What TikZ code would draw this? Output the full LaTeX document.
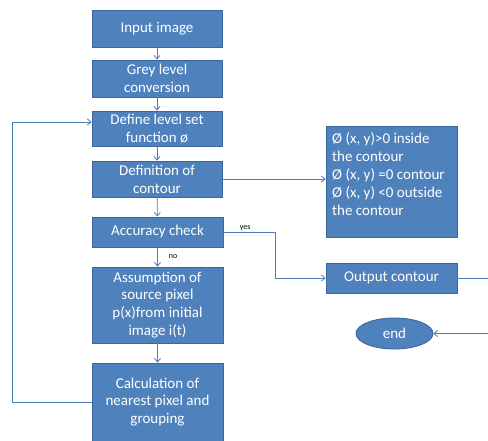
\documentclass[tikz,border=0pt]{standalone}
\usepackage{fontspec}
\setmainfont{Carlito}
\usetikzlibrary{shapes.geometric,arrows.meta,calc}
\definecolor{boxfill}{HTML}{4F81BD}
\definecolor{boxline}{HTML}{3A679E}
\definecolor{lnk}{HTML}{4A7EBB}
\tikzset{
  pbox/.style={draw=boxline,line width=0.9pt,fill=boxfill,text=white,align=center,inner sep=2pt,
    font=\fontsize{15}{17.8}\selectfont},
  arr/.style={draw=lnk,line width=0.8pt,-{Straight Barb[length=3.5pt,width=6pt]}},
  ln/.style={draw=lnk,line width=0.8pt},
  lbl/.style={font=\fontsize{8}{9}\selectfont,text=black,inner sep=1pt}
}
\begin{document}
\begin{tikzpicture}[x=1pt,y=-1pt]
\useasboundingbox[fill=white] (0,0) rectangle (488,441);
\node[pbox,minimum width=130pt,minimum height=37pt] (input) at (157,28.5) {Input image};
\node[pbox,minimum width=130pt,minimum height=37pt] (grey) at (157,78.5) {Grey level\\conversion};
\node[pbox,minimum width=130pt,minimum height=35pt] (define) at (157,128.5) {Define level set\\function ø};
\node[pbox,minimum width=130pt,minimum height=36pt] (defc) at (157,179) {Definition of\\contour};
\node[pbox,minimum width=131pt,minimum height=30pt] (acc) at (157.5,232) {Accuracy check};
\node[pbox,minimum width=131pt,minimum height=76pt] (assume) at (157.5,305) {Assumption of\\source pixel\\p(x)from initial\\image i(t)};
\node[pbox,minimum width=131pt,minimum height=78pt] (calc) at (157.5,402) {Calculation of\\nearest pixel and\\grouping};
\node[pbox,minimum width=131pt,minimum height=111pt] (info) at (391.5,181.5) {};
\node[anchor=north west,text=white,align=left,inner sep=0pt,font=\fontsize{15}{18}\selectfont] (infotext) at (332,132)
  {Ø (x, y)>0 inside\\the contour\\Ø (x, y) =0 contour\\Ø (x, y) <0 outside\\the contour};
\node[pbox,minimum width=131pt,minimum height=30pt] (out) at (391.5,278) {Output contour};
\node[pbox,ellipse,minimum width=77pt,minimum height=31pt,inner sep=0pt] (end) at (394.5,333.5) {end};
\draw[arr] (input) -- (grey);
\draw[arr] (grey) -- (define);
\draw[arr] (define) -- (defc);
\draw[arr] (defc) -- (acc);
\draw[arr] (acc) -- node[lbl,right,xshift=10pt] (no) {no} (assume);
\draw[arr] (assume) -- (calc);
\coordinate (lp) at (12,122);
\draw[arr] (calc.west) -| (lp) -- (define.west |- lp);
\draw[arr] (defc.east) -- (info.west |- defc.east);
\coordinate (yc) at (275,232);
\draw[arr] (acc.east) -- node[lbl,above,xshift=-4pt] (yes) {yes} (yc) |- (out.west);
\coordinate (rc) at (493,278);
\draw[arr] (out.east) -- (rc) |- (end.east);
\end{tikzpicture}
\end{document}
